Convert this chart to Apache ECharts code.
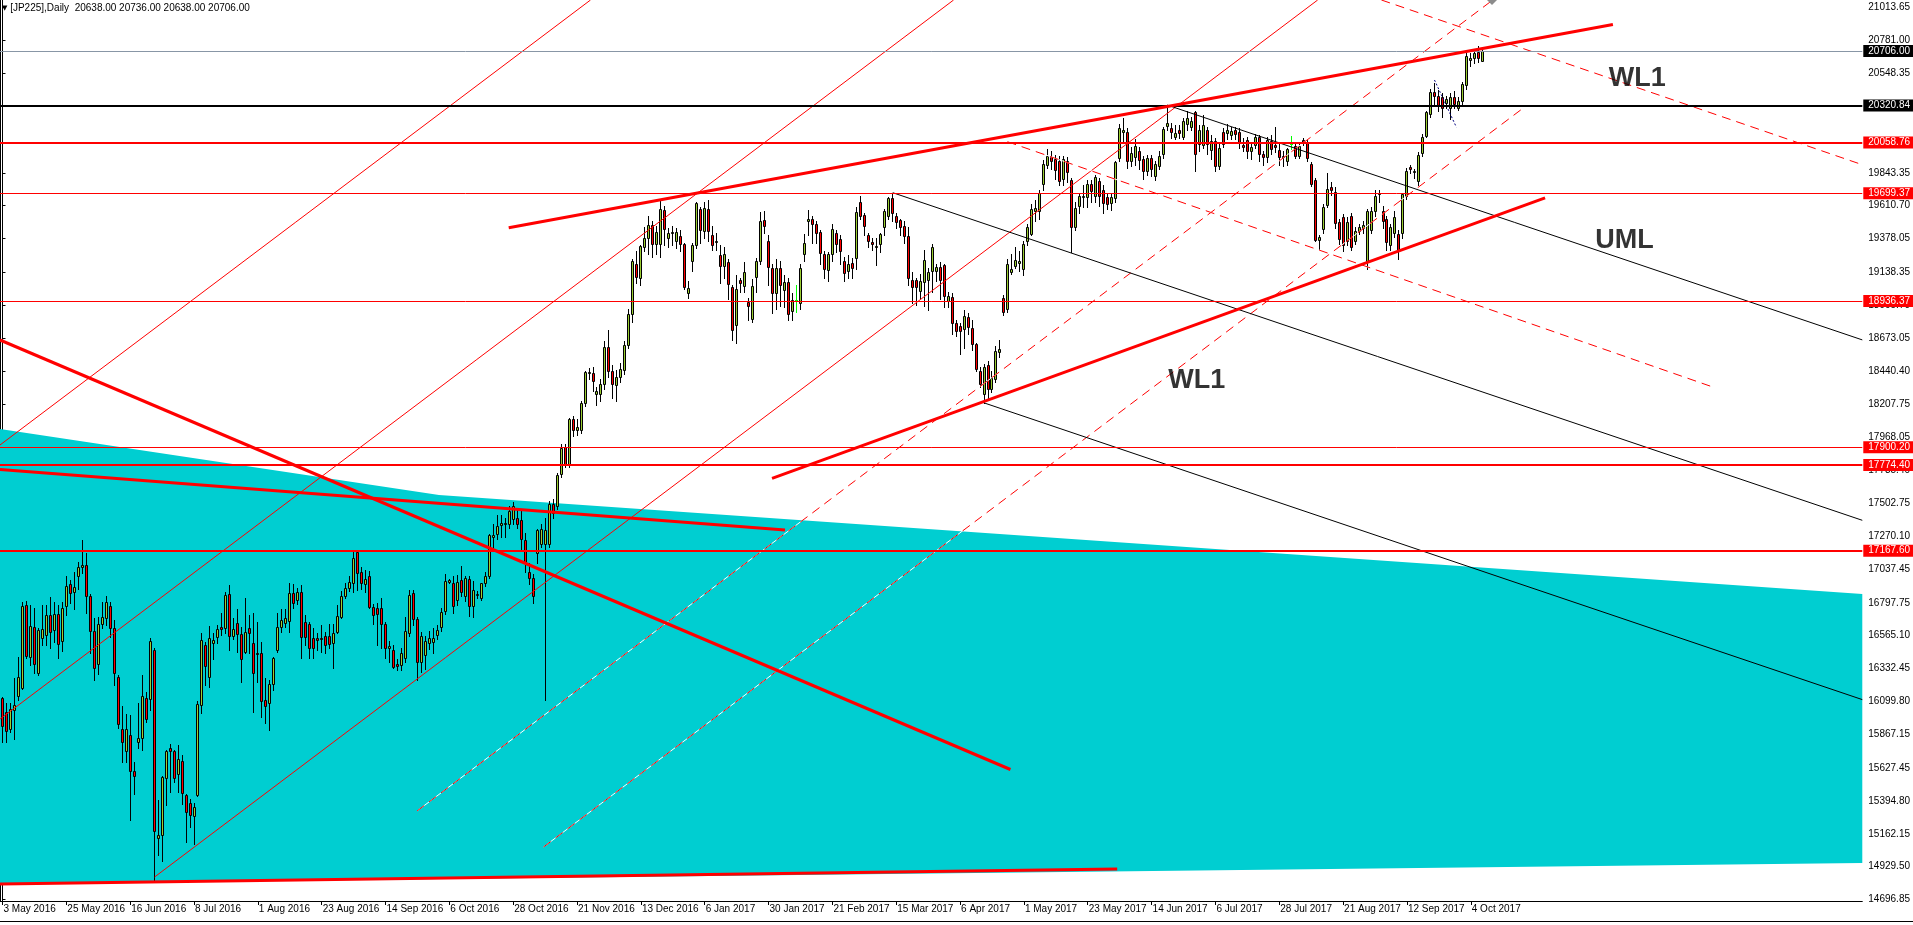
<!DOCTYPE html>
<html><head><meta charset="utf-8">
<script src="https://cdn.jsdelivr.net/npm/echarts@6/dist/echarts.min.js"></script>
<style>html,body{margin:0;padding:0;background:#fff;overflow:hidden}#c{width:1913px;height:925px}</style>
</head><body><div id="c"></div>
<script>
// ---------- DATA (bar index -> daily OHLC of JP225) ----------
const opens = [16122,16023,15902,16039,16139,16193,16783,16415,16627,16299,16552,16571,16712,16606,16719,16528,16776,16932,16878,16988,17052,17066,16847,16599,16363,16649,16693,16776,16618,16273,15902,15749,15862,15607,15815,15843,16122,16117,16462,15135,15154,15560,15768,15749,15584,15678,15437,15378,15289,15437,16075,16500,16273,16512,16559,16627,16618,16861,16564,16653,16578,16453,16620,16516,16441,16443,16110,16089,16224,16464,16627,16653,16670,16868,16818,16878,16665,16646,16547,16547,16552,16564,16564,16512,16590,16700,16847,16906,16937,17160,17019,16929,16991,16771,16764,16760,16646,16476,16464,16363,16358,16405,16582,16870,16684,16382,16430,16512,16520,16571,16630,16741,16949,16942,16818,16958,16847,16965,16776,16854,16831,16942,16989,17265,17284,17350,17355,17355,17390,17397,17383,17244,17013,16972,17154,17213,17213,17213,17497,17485,17709,17902,17780,18099,18021,18021,18210,18424,18424,18276,18276,18346,18611,18441,18339,18398,18446,18625,18842,19196,19102,19319,19381,19473,19338,19338,19581,19385,19420,19362,19397,19338,18991,19220,19331,19586,19433,19586,19402,19355,19263,19185,19215,19038,18767,19083,19041,18930,18807,19107,19220,19508,19362,19173,18991,19168,19012,19074,18866,18940,18920,19267,19503,19515,19480,19425,19267,19154,19267,19416,19375,19220,19149,19208,19239,19640,19546,19406,19352,19322,19340,19463,19541,19666,19541,19510,19470,19399,19085,19085,19010,19069,19085,19151,19151,19175,19194,18939,18967,18778,18762,18738,18821,18745,18632,18438,18278,18483,18313,18384,18573,18958,18880,19139,19187,19203,19163,19364,19411,19576,19576,19765,19902,19954,19942,19930,19801,19930,19793,19463,19612,19671,19671,19765,19682,19789,19722,19671,19628,19666,19949,20131,20131,19930,19954,19996,19942,19855,19947,19824,19895,19978,20178,20162,20100,20148,20100,20190,20171,20273,20048,20044,20148,20006,20067,19895,20131,20124,20115,20148,20131,20044,20077,20001,20044,20095,19977,19958,20071,20043,20005,19965,19929,20050,20036,19965,20076,20059,19906,19792,19368,19445,19618,19745,19705,19493,19528,19363,19540,19358,19429,19452,19209,19438,19571,19695,19575,19516,19334,19415,19410,19415,19681,19887,19850,19783,19981,20106,20260,20413,20390,20383,20335,20302,20383,20302,20354,20465,20642,20657,20697,20638];
const highs = [16134,16087,16087,16264,16417,16807,16814,16783,16760,16618,16783,16783,16842,16807,16783,16807,16991,16960,17019,17090,17243,17149,16860,16689,16700,16807,16847,16807,16677,16287,16070,16013,16004,15673,16087,16287,16165,16547,16476,15402,15570,15756,15799,15756,15791,15721,15445,15407,15378,16103,16582,16523,16637,16582,16641,16724,16878,16925,16693,16755,16630,16830,16712,16729,16665,16523,16264,16252,16417,16724,16755,16755,16937,16929,16900,16925,16712,16660,16618,16582,16641,16590,16650,16646,16783,16882,16937,16990,17160,17165,17055,17031,17024,16790,16795,16830,16665,16530,16500,16400,16476,16700,16890,16890,16700,16590,16560,16600,16620,16640,16760,17000,16970,16989,16995,17062,16989,16989,16950,16880,16942,17013,17289,17355,17420,17420,17400,17485,17510,17460,17449,17290,17083,17000,17320,17355,17400,17520,17530,17720,17920,17925,18105,18120,18100,18230,18440,18460,18470,18330,18380,18650,18730,18480,18450,18500,18650,18880,19230,19290,19330,19460,19540,19500,19470,19650,19610,19450,19470,19450,19440,19350,19080,19350,19640,19600,19640,19650,19470,19420,19330,19320,19230,19050,19120,19100,19210,18960,19090,19240,19565,19570,19400,19200,19230,19220,19120,19100,18990,19050,19200,19410,19580,19540,19500,19440,19290,19280,19480,19440,19400,19250,19260,19240,19605,19680,19560,19420,19380,19380,19420,19585,19675,19700,19560,19520,19500,19460,19140,19100,19130,19300,19170,19340,19200,19210,19200,19000,18990,18800,18780,18870,18850,18800,18640,18470,18490,18510,18440,18620,18660,18980,19230,19270,19320,19290,19360,19480,19620,19650,19720,19935,20010,20000,19970,19960,19960,19955,19810,19640,19700,19760,19790,19790,19830,19810,19760,19700,19700,19930,20190,20230,20160,20030,20080,20030,19960,19970,19970,19930,20000,20170,20320,20200,20180,20180,20230,20280,20240,20285,20180,20250,20170,20110,20090,20050,20160,20190,20170,20170,20160,20090,20100,20060,20120,20110,20000,20100,20110,20170,20050,20000,20020,20106,20050,20060,20090,20080,19920,19810,19400,19620,19840,19780,19740,19520,19550,19530,19560,19460,19480,19500,19590,19600,19720,19720,19610,19540,19480,19570,19440,19700,19880,19900,19870,19990,20120,20280,20440,20480,20430,20410,20390,20410,20420,20380,20490,20690,20690,20710,20740,20736];
const lows = [15815,15815,15886,15834,16110,16186,16405,16358,16299,16287,16500,16500,16476,16523,16405,16460,16712,16795,16752,16896,17007,16729,16441,16250,16292,16618,16641,16559,16216,15910,15669,15673,15258,15442,15768,15756,15957,16039,14823,15012,14970,15367,15461,15532,15461,15371,15102,15213,15090,15430,16016,16216,16205,16401,16512,16571,16587,16464,16540,16453,16240,16441,16441,16023,16240,15992,15945,15898,16181,16453,16594,16630,16594,16760,16790,16405,16500,16405,16405,16464,16453,16440,16476,16334,16582,16689,16830,16880,16873,16890,16897,16878,16764,16650,16500,16476,16405,16380,16334,16320,16322,16382,16560,16640,16252,16311,16330,16470,16440,16540,16600,16717,16940,16729,16780,16847,16811,16705,16700,16830,16815,16920,16977,17170,17249,17265,17265,17330,17355,17330,17180,17013,16930,16800,17083,17190,16110,17190,17400,17460,17690,17760,17760,17980,17990,18000,18190,18380,18300,18200,18230,18310,18400,18250,18230,18360,18420,18600,18790,19060,19050,19290,19270,19250,19270,19250,19330,19320,19330,19310,19290,19020,18960,19150,19310,19350,19380,19360,19300,19300,19060,19100,18950,18660,18640,19000,19000,18800,18790,19000,19200,19420,19050,18850,18880,18900,18890,18800,18800,18861,18880,19220,19400,19350,19350,19200,19100,19080,19220,19280,19200,19080,19100,19100,19163,19520,19400,19320,19300,19190,19280,19400,19520,19500,19450,19400,19350,19050,18920,18910,18960,18900,18870,19000,19080,18950,18890,18890,18700,18690,18560,18600,18700,18590,18440,18330,18210,18250,18290,18360,18540,18840,18860,19130,19170,19150,19120,19330,19400,19500,19520,19720,19880,19870,19800,19760,19760,19780,19281,19440,19560,19600,19600,19640,19640,19610,19560,19590,19580,19640,19930,20070,19880,19890,19900,19870,19800,19830,19820,19790,19870,19950,20150,20090,20080,20090,20080,20150,20150,19860,20000,20020,19980,19940,19860,19870,20030,20080,20080,20080,20020,20000,19950,19940,20020,19930,19900,19920,19980,19990,19900,19890,19900,20012,19950,19950,20040,19930,19750,19360,19304,19420,19600,19690,19450,19340,19290,19330,19300,19340,19410,19420,19165,19420,19540,19640,19450,19300,19300,19390,19233,19380,19660,19840,19810,19760,19960,20100,20240,20320,20280,20240,20300,20225,20300,20290,20330,20440,20600,20620,20630,20638];
const closes = [15928,15891,16047,16075,16276,16776,16422,16634,16365,16606,16613,16712,16594,16719,16507,16762,16920,16870,16913,17052,17066,16847,16599,16337,16649,16696,16807,16620,16301,15943,15813,15902,15607,15570,15839,16136,15973,16528,15182,15154,15565,15751,15751,15560,15692,15454,15315,15296,15355,16082,16538,16351,16552,16538,16615,16613,16854,16564,16613,16575,16401,16594,16587,16299,16434,16103,16068,16224,16410,16627,16679,16691,16868,16795,16878,16559,16559,16476,16476,16533,16540,16500,16505,16582,16705,16847,16906,16948,17118,17007,16937,16967,16771,16712,16717,16646,16476,16495,16346,16353,16441,16599,16854,16680,16382,16564,16530,16547,16547,16606,16736,16954,16958,16776,16948,16878,16977,16776,16887,16860,16935,16989,17279,17275,17343,17360,17362,17449,17485,17355,17249,17083,16977,16847,17312,17320,17314,17501,17437,17702,17898,17780,18099,18021,18040,18210,18434,18430,18370,18300,18351,18611,18441,18351,18398,18453,18625,18842,19220,19107,19326,19381,19473,19338,19428,19586,19444,19416,19428,19428,19338,19038,19031,19331,19628,19437,19593,19433,19333,19360,19185,19267,19055,18729,19024,19064,19142,18897,19041,19220,19503,19468,19178,18991,19173,19050,19069,18847,18946,18940,19168,19345,19515,19480,19421,19274,19161,19267,19449,19338,19291,19137,19201,19173,19564,19541,19465,19364,19343,19327,19411,19576,19666,19557,19494,19458,19399,19099,19033,19038,19080,19227,19140,19321,19180,19085,18974,18974,18778,18722,18722,18833,18750,18632,18455,18349,18471,18313,18389,18580,18596,18856,19198,19163,19227,19222,19340,19458,19588,19593,19699,19907,19966,19930,19864,19789,19942,19848,19463,19595,19682,19682,19765,19718,19812,19682,19628,19623,19671,19919,20162,20148,19930,19982,20037,19935,19855,19949,19871,19907,19966,20155,20195,20131,20126,20124,20209,20233,20209,19978,20148,20185,20048,20072,19895,20020,20048,20148,20143,20119,20053,20030,19996,20030,20096,19977,19958,20076,20012,20024,19953,19953,20012,20050,19965,20036,20060,19948,19764,19368,19386,19604,19729,19722,19486,19375,19334,19497,19320,19429,19457,19476,19571,19571,19681,19700,19505,19351,19462,19528,19292,19693,19859,19870,19854,19972,20099,20272,20413,20390,20319,20302,20366,20383,20331,20354,20472,20673,20657,20692,20657,20706];

const xTickIdx = [0,16,32,48,64,80,96,112,128,144,160,176,192,208,224,240,256,272,288,304,320,336,352,368];
const xTickLabels = ['3 May 2016','25 May 2016','16 Jun 2016','8 Jul 2016','1 Aug 2016','23 Aug 2016','14 Sep 2016','6 Oct 2016','28 Oct 2016','21 Nov 2016','13 Dec 2016','6 Jan 2017','30 Jan 2017','21 Feb 2017','15 Mar 2017','6 Apr 2017','1 May 2017','23 May 2017','14 Jun 2017','6 Jul 2017','28 Jul 2017','21 Aug 2017','12 Sep 2017','4 Oct 2017'];
const yTickValues = [21013.65,20781.00,20548.35,19843.35,19610.70,19378.05,19138.35,18905.70,18673.05,18440.40,18207.75,17968.05,17735.40,17502.75,17270.10,17037.45,16797.75,16565.10,16332.45,16099.80,15867.15,15627.45,15394.80,15162.15,14929.50,14696.85];

// horizontal price levels
const levelValues = [20706.00,20320.84,20058.76,19699.37,18936.37,17900.20,17774.40,17167.60];

// trend lines: [startIndex, startPrice, endIndex, endPrice]
const thickRedLines = [
  [126.875,19455.1,403.625,20894.4],
  [192.875,17680.1,386.625,19666.9],
  [-0.625,18659.7,252.625,15617.5],
  [-0.625,17743.1,196.125,17313.9],
  [-0.625,14806.5,279.375,14912.8]
];
const thinRedLines = [
  [-0.625,17915.9,147.375,21067.9],
  [-0.625,15975.2,238.375,21067.9],
  [38.125,14856.1,329.625,21067.9]
];
const dashedRedLines = [
  [103.9,15323.6,373.5,21067.9],
  [135.6,15068.6,380.6,20290.9],
  [345.6,21067.9,466.125,19901.3],
  [251.875,20064.2,429.375,18319.7]
];
const blackLines = [
  [223.125,19703.0,466.125,17382.6],
  [291.875,20324.2,466.125,18660.4],
  [245.875,18215.6,466.125,16112.6]
];
const navyDotLines = [[358.9,20501.3,364.4,20166.3]];

// filled turquoise area (index, price vertices)
const fillIdx   = [-0.625, 109.4, 466.125, 466.125, -0.625];
const fillPrice = [18029.0, 17561.9, 16860.6, 14955.0, 14806.6];

// chart annotations
const noteText  = ['WL1','UML','WL1'];
const noteIdx   = [409.75, 406.55, 299.3];
const notePrice = [20511.9, 19360.9, 18370.7];

// ---------- CHART ----------
const FONT = 'Liberation Sans, Arial, sans-serif';
const Y_MIN = 14686.1, Y_MAX = 21067.9, X_MIN = -0.625, X_MAX = 466.125;
const chart = echarts.init(document.getElementById('c'));

const candleData = opens.map((o,k)=>[k,o,highs[k],lows[k],closes[k]]);

function renderCandle(params, api){
  const k=api.value(0), o=api.value(1), h=api.value(2), l=api.value(3), c=api.value(4);
  const pO=api.coord([k,o]), pC=api.coord([k,c]), pH=api.coord([k,h]), pL=api.coord([k,l]);
  const cx=Math.floor(pO[0])+0.5;
  const yH=Math.round(pH[1]), yL=Math.round(pL[1])+1;
  if (o===c){
    const y=Math.round(pO[1])+0.5;
    return {type:'group',children:[
      {type:'line',shape:{x1:cx,y1:yH,x2:cx,y2:yL},style:{stroke:'#00FF00',lineWidth:1}},
      {type:'line',shape:{x1:cx-1.5,y1:y,x2:cx+1.5,y2:y},style:{stroke:'#00FF00',lineWidth:1}}
    ]};
  }
  const yT=Math.round(Math.min(pO[1],pC[1]))+0.5, yB=Math.round(Math.max(pO[1],pC[1]))+0.5;
  return {type:'group',children:[
    {type:'line',shape:{x1:cx,y1:yH,x2:cx,y2:yL},style:{stroke:'#000',lineWidth:1}},
    {type:'rect',shape:{x:cx-1,y:yT,width:2,height:Math.max(yB-yT,1)},style:{fill:c>o?'#9ACD32':'#FF0000',stroke:'#000',lineWidth:1}}
  ]};
}
function renderFill(params, api){
  const pts=fillIdx.map((x,j)=>api.coord([x,fillPrice[j]]));
  return {type:'polygon',shape:{points:pts},style:{fill:'#00CED1'}};
}
function seg(arr, color, width, type, z){
  return {type:'line', data:[[arr[0],arr[1]],[arr[2],arr[3]]], symbol:'none', silent:true, animation:false,
    lineStyle:{color:color,width:width,type:type}, z:z, clip:true};
}

const series = [];
series.push({type:'custom', renderItem:renderFill, data:[[fillIdx[0],fillPrice[0]]], clip:true, silent:true, animation:false, z:1});
series.push({type:'custom', renderItem:renderCandle, data:candleData, encode:{x:0,y:[1,2,3,4]}, clip:true, silent:true, animation:false, z:3});
thinRedLines.forEach(a=>series.push(seg(a,'#FF0000',1,'solid',4)));
dashedRedLines.forEach(a=>{ series.push(seg(a,'#FFFFFF',1,'solid',4)); series.push(seg(a,'#FF0000',1,[9,6],4)); });
blackLines.forEach(a=>series.push(seg(a,'#000000',1,'solid',4)));
navyDotLines.forEach(a=>series.push(seg(a,'#000080',1,[2,2],4)));
thickRedLines.forEach(a=>series.push(seg(a,'#FF0000',3,'solid',5)));

const levelColor = ['#8896A6','#000000','#FF0000','#FF0000','#FF0000','#FF0000','#FF0000','#FF0000'];
const levelWidth = [1,2,2,1,1,1,2,2];
const levelBox   = ['#000000','#000000','#FF0000','#FF0000','#FF0000','#FF0000','#FF0000','#FF0000'];
series.push({type:'line', data:[], silent:true, animation:false, z:6,
  markLine:{symbol:'none', silent:true, animation:false,
    data: levelValues.map((v,j)=>({yAxis:v, lineStyle:{color:levelColor[j],width:levelWidth[j],type:'solid'},
      label:{show:true, position:'end', distance:1, formatter:v.toFixed(2), backgroundColor:levelBox[j], color:'#fff',
        fontSize:10, fontFamily:FONT, padding:[1,4,0,5], lineHeight:11}}))}});

series.push({type:'scatter', data:noteText.map((t,j)=>[noteIdx[j],notePrice[j],t]), symbolSize:1, silent:true, animation:false, z:8,
  itemStyle:{color:'rgba(0,0,0,0)'},
  label:{show:true, position:'inside', formatter:p=>p.value[2], fontSize:27, fontWeight:'bold', color:'#000', fontFamily:FONT}});

chart.setOption({
  animation:false,
  backgroundColor:'#fff',
  title:{text:'{t|▼} [JP225],Daily  20638.00 20736.00 20638.00 20706.00', left:2, top:3, padding:0,
    textStyle:{fontSize:10, fontWeight:'normal', fontFamily:FONT, color:'#000', rich:{t:{fontSize:7, fontFamily:'DejaVu Sans', color:'#000'}}}},
  grid:{left:0, top:0, right:46, bottom:24, containLabel:false},
  xAxis:{type:'value', min:X_MIN, max:X_MAX,
    axisLine:{show:true, onZero:false, lineStyle:{color:'#000',width:1}},
    axisTick:{show:true, customValues:xTickIdx, length:4, lineStyle:{color:'#000'}},
    axisLabel:{customValues:xTickIdx, formatter:v=>xTickLabels[xTickIdx.indexOf(Math.round(v))]||'', align:'left', margin:3,
      fontSize:10, fontFamily:FONT, color:'#000', padding:[0,0,0,1]},
    splitLine:{show:false}},
  yAxis:[
    {type:'value', position:'right', min:Y_MIN, max:Y_MAX,
      axisLine:{show:true, lineStyle:{color:'#000',width:1}},
      axisTick:{show:true, customValues:yTickValues, length:3, lineStyle:{color:'#000'}},
      axisLabel:{customValues:yTickValues, formatter:v=>Number(v).toFixed(2), margin:6, fontSize:10, fontFamily:FONT, color:'#000'},
      splitLine:{show:false}},
    {type:'value', position:'left', min:Y_MIN, max:Y_MAX,
      axisLine:{show:true, lineStyle:{color:'#000',width:1}}, axisTick:{show:false}, axisLabel:{show:false}, splitLine:{show:false}}
  ],
  graphic:[
    {type:'polygon', shape:{points:[[1487,0],[1497,0],[1492,5]]}, style:{fill:'#8c8c8c'}, silent:true, z:10},
    {type:'rect', shape:{x:0,y:921,width:1913,height:1}, style:{fill:'#000'}, silent:true, z:10}
  ],
  series:series
});
</script>
</body></html>
